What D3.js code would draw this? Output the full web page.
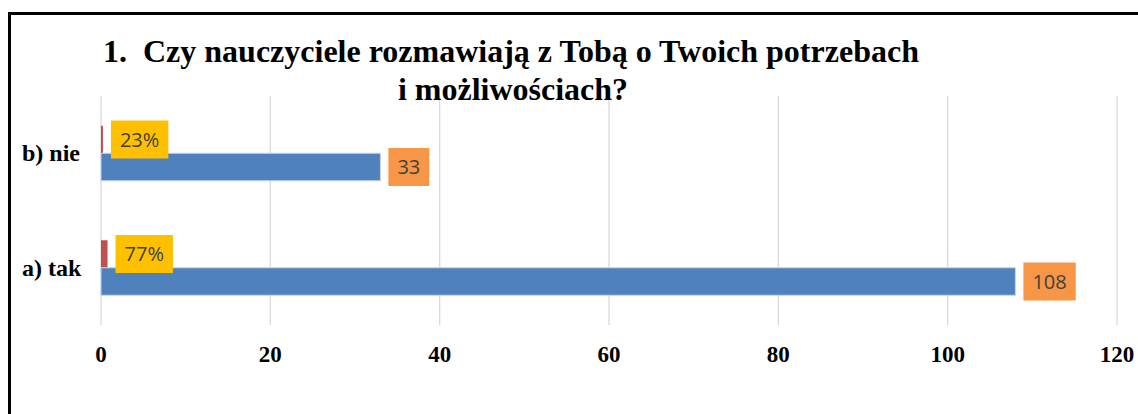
<!DOCTYPE html>
<html><head><meta charset="utf-8">
<script src="https://cdn.jsdelivr.net/npm/d3@7/dist/d3.min.js"></script>
<style>body{margin:0;background:#fff}svg{display:block}</style>
</head><body>
<script>
const categories = ["b) nie", "a) tak"];
const countValues = [33, 108];
const shareValues = [0.23, 0.77];
const shareLabels = ["23%", "77%"];
const xTicks = [0, 20, 40, 60, 80, 100, 120];
const titleLine1Num = "1.";
const titleLine1 = "Czy nauczyciele rozmawiają z Tobą o Twoich potrzebach";
const titleLine2 = "i możliwościach?";

(function () {
const W = 1138, H = 414;
const svg = d3.select("body").append("svg").attr("width", W).attr("height", H);

svg.append("rect").attr("x", 9.5).attr("y", 13.5).attr("width", W + 20).attr("height", H + 20)
  .attr("fill", "none").attr("stroke", "#000").attr("stroke-width", 3);

const pLeft = 101, pRight = 1117, pTop = 96, pBottom = 325;
const x = d3.scaleLinear().domain([0, 120]).range([pLeft, pRight]);
const y = d3.scaleBand().domain(categories).range([pTop, pBottom]);
const inner = d3.scaleBand().domain(["share", "count"]).range([0, 55]);
const barOff = (y.bandwidth() - 55) / 2;

svg.append("g").selectAll("line").data(xTicks).join("line")
  .attr("x1", d => x(d)).attr("x2", d => x(d)).attr("y1", pTop).attr("y2", pBottom)
  .attr("stroke", "#d9d9d9").attr("stroke-width", 1.3);

svg.append("g").selectAll("text").data(xTicks).join("text")
  .attr("x", d => x(d)).attr("y", 362).attr("text-anchor", "middle")
  .attr("font-family", "Liberation Serif").attr("font-weight", "bold").attr("font-size", 23)
  .text(d => d);

svg.append("g").selectAll("text").data(categories).join("text")
  .attr("x", 22).attr("y", d => y(d) + y.bandwidth() / 2 + 8)
  .attr("font-family", "Liberation Serif").attr("font-weight", "bold").attr("font-size", 24)
  .text(d => d);

const data = categories.map((c, i) => ({c, count: countValues[i], share: shareValues[i], shareLabel: shareLabels[i]}));

svg.append("g").selectAll("rect").data(data).join("rect")
  .attr("x", x(0)).attr("y", d => y(d.c) + barOff + inner("share"))
  .attr("width", d => x(d.share) - x(0)).attr("height", inner.bandwidth())
  .attr("fill", "#C0504D");

svg.append("g").selectAll("rect").data(data).join("rect")
  .attr("x", x(0)).attr("y", d => y(d.c) + barOff + inner("count"))
  .attr("width", d => x(d.count) - x(0)).attr("height", inner.bandwidth())
  .attr("fill", "#4F81BD").attr("stroke", "#c5d3e8").attr("stroke-width", 1);

function labels(key, txt, fill) {
  const g = svg.append("g").selectAll("g").data(data).join("g");
  g.each(function(d) {
    const sel = d3.select(this);
    const cy = y(d.c) + barOff + inner(key) + inner.bandwidth() / 2;
    const x0 = x(d[key]) + 8;
    const t = sel.append("text").attr("x", 0).attr("y", cy + 7)
      .attr("font-family", "Open Sans").attr("font-size", 20).attr("fill", "#404040").text(txt(d));
    const w = t.node().getComputedTextLength();
    t.attr("x", x0 + 9);
    sel.insert("rect", "text").attr("x", x0).attr("y", cy - 19).attr("width", w + 18).attr("height", 38)
      .attr("fill", fill);
  });
}
labels("share", d => d.shareLabel, "#FFC000");
labels("count", d => d.count, "#F79646");

const tg = svg.append("g").attr("font-family", "Liberation Serif").attr("font-weight", "bold").attr("font-size", 32);
tg.append("text").attr("x", 103).attr("y", 62).text(titleLine1Num);
tg.append("text").attr("x", 143).attr("y", 62).text(titleLine1);
tg.append("text").attr("x", 513).attr("y", 100).attr("text-anchor", "middle").text(titleLine2);
})();
</script>
</body></html>
